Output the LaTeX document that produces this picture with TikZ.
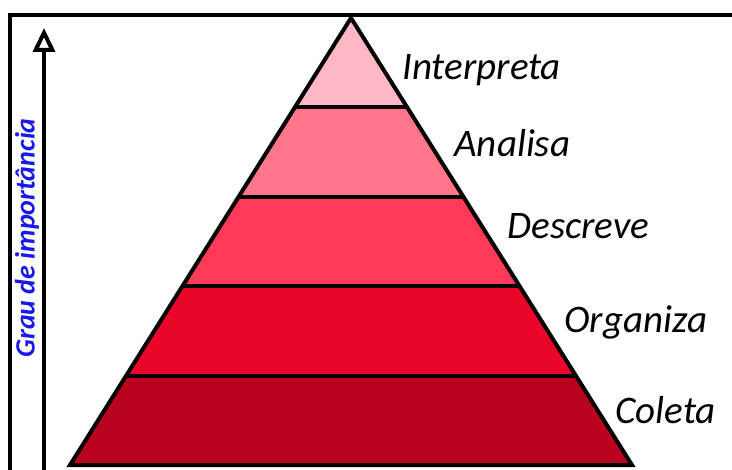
\documentclass[tikz,border=0pt]{standalone}
\usepackage{fontspec}
\setmainfont{Carlito}
\usetikzlibrary{
    arrows.meta,
    calc,
    positioning,
}
\definecolor{LevelOne}{HTML}{FFB7C4}
\definecolor{LevelTwo}{HTML}{FF7589}
\definecolor{LevelThree}{HTML}{FF3A59}
\definecolor{LevelFour}{HTML}{EB0529}
\definecolor{LevelFive}{HTML}{BB0320}
\definecolor{AxisBlue}{RGB}{25,25,235}
\tikzstyle{thickline}=[draw=black,line width=2pt,line join=miter]
\tikzstyle{level}=[anchor=base west,inner sep=0pt,font=\fontsize{19.5}{23}\selectfont\itshape]
\tikzset{
    >={Triangle[open,length=12pt,width=11pt]}
}

\begin{document}
\begin{tikzpicture}[x=0.5pt,y=-0.5pt]
    \useasboundingbox (0,0) rectangle (732,470);

    % Frame
    \draw[thickline] (10,470) -- (10,15) -- (732,15);

    % Pyramid corners
    \coordinate (apex) at (351,18);
    \coordinate (bl) at (70,465);
    \coordinate (br) at (632,465);
    \coordinate (l1) at ($(apex)!.2!(bl)$);
    \coordinate (r1) at ($(apex)!.2!(br)$);
    \coordinate (l2) at ($(apex)!.4!(bl)$);
    \coordinate (r2) at ($(apex)!.4!(br)$);
    \coordinate (l3) at ($(apex)!.6!(bl)$);
    \coordinate (r3) at ($(apex)!.6!(br)$);
    \coordinate (l4) at ($(apex)!.8!(bl)$);
    \coordinate (r4) at ($(apex)!.8!(br)$);

    % Layers
    \fill[LevelOne] (apex) -- (r1) -- (l1) -- cycle;
    \fill[LevelTwo] (l1) -- (r1) -- (r2) -- (l2) -- cycle;
    \fill[LevelThree] (l2) -- (r2) -- (r3) -- (l3) -- cycle;
    \fill[LevelFour] (l3) -- (r3) -- (r4) -- (l4) -- cycle;
    \fill[LevelFive] (l4) -- (r4) -- (br) -- (bl) -- cycle;
    \draw[thickline] (l1) -- (r1);
    \draw[thickline] (l2) -- (r2);
    \draw[thickline] (l3) -- (r3);
    \draw[thickline] (l4) -- (r4);
    \draw[thickline] (apex) -- (br) -- (bl) -- cycle;

    % Labels
    \node[level] (interpreta) at (402,80) {Interpreta};
    \node[level] (analisa) at (454,157) {Analisa};
    \node[level] (descreve) at (507,238) {Descreve};
    \node[level] (organiza) at (564,332) {Organiza};
    \node[level] (coleta) at (615,423) {Coleta};

    % Importance axis
    \coordinate (axis start) at (44,470);
    \coordinate (axis end) at (44,28);
    \draw[->,line width=2pt] (axis start) -- (axis end);
    \node[rotate=90,text=AxisBlue,font=\fontsize{14}{16}\selectfont\bfseries\itshape] (importance) at (27,238) {Grau de importância};
\end{tikzpicture}
\end{document}
